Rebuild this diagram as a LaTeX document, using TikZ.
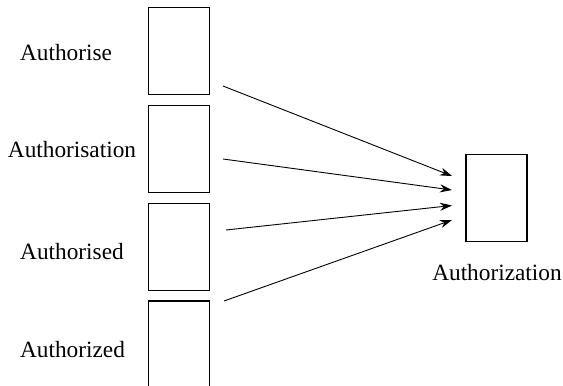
\documentclass[tikz,border=0pt]{standalone}
\usepackage{fontspec}
\setmainfont{Liberation Serif}
\usepackage{tikz}
\usetikzlibrary{arrows.meta,positioning,calc}
\begin{document}
\begin{tikzpicture}[x=1pt,y=-1pt,
  wordbox/.style={draw,line width=1.2pt,minimum width=61pt,minimum height=87pt,inner sep=0pt},
  word/.style={font=\fontsize{23.3}{28}\selectfont,inner sep=0pt},
  merge/.style={line width=0.9pt,-{Stealth[length=12pt,width=8pt]}}]
\useasboundingbox (0,0) rectangle (563,386);
\node[wordbox] (b1) at (179,50.7) {};
\node[wordbox] (b2) at (179,149) {};
\node[wordbox] (b3) at (179,247) {};
\node[wordbox] (b4) at (179,344.5) {};
\node[wordbox] (target) at (496.5,198) {};

\node[word] (w1) at (66,53) {Authorise};
\node[word] (w2) at (72,150) {Authorisation};
\node[word] (w3) at (72,251.5) {Authorised};
\node[word] (w4) at (72.5,350) {Authorized};
\node[word] (wt) at (497,273) {Authorization};

\coordinate (s1) at (223,86);
\coordinate (s2) at (223,159);
\coordinate (s3) at (226,230);
\coordinate (s4) at (224,301);
\coordinate (e1) at (452,176);
\coordinate (e2) at (452,190);
\coordinate (e3) at (452,205.5);
\coordinate (e4) at (452,220);
\draw[merge] (s1) -- (e1);
\draw[merge] (s2) -- (e2);
\draw[merge] (s3) -- (e3);
\draw[merge] (s4) -- (e4);
\end{tikzpicture}
\end{document}
